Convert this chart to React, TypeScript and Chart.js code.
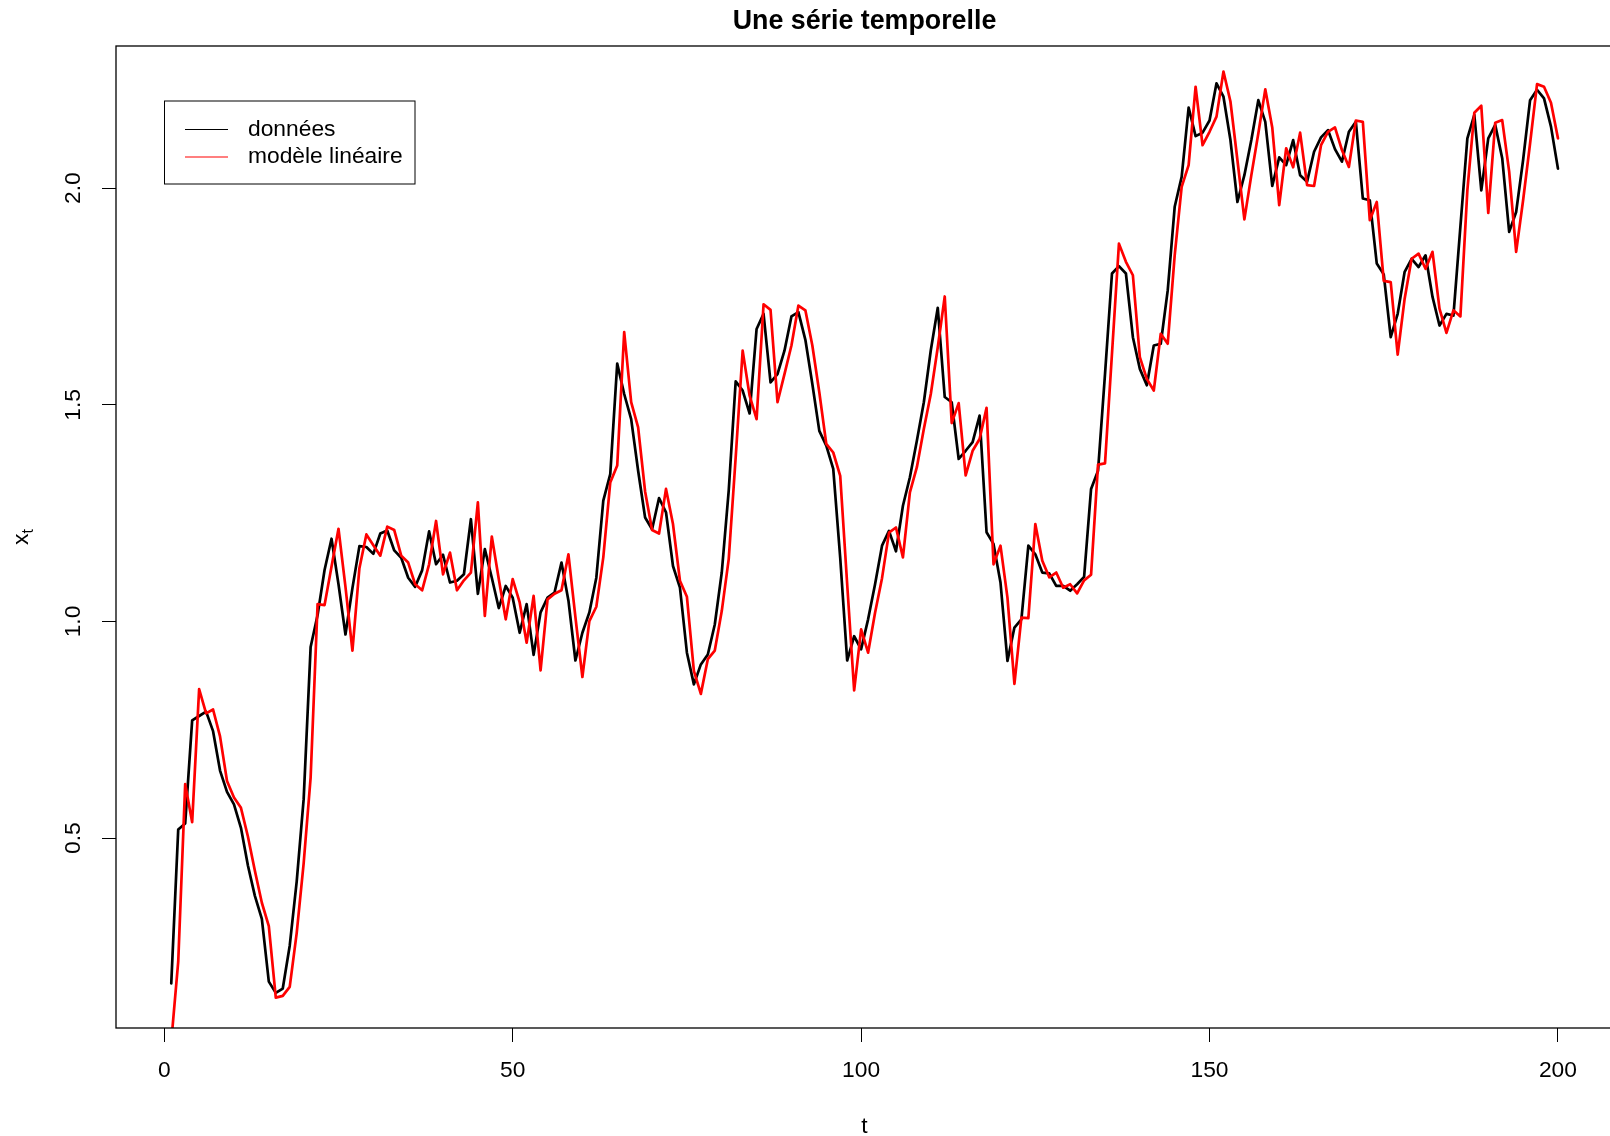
import React, { useEffect, useRef } from 'react';
import { Chart, registerables } from 'chart.js';

Chart.register(...registerables);

const chartTitle = 'Une série temporelle';
const legendLabels = ['données', 'modèle linéaire'];
const xTicks = [0, 50, 100, 150, 200];
const yTicks = [0.5, 1.0, 1.5, 2.0];
const yTickLabels = ['0.5', '1.0', '1.5', '2.0'];

// time index t = 1..200
const tValues = Array.from({ length: 200 }, (_, i) => i + 1);

// observed series x_t
const donnees = [
  0.165, 0.52, 0.534, 0.772, 0.782, 0.792, 0.747, 0.656, 0.607, 0.578,
  0.524, 0.437, 0.367, 0.314, 0.169, 0.143, 0.153, 0.252, 0.4, 0.59,
  0.941, 1.015, 1.119, 1.191, 1.086, 0.97, 1.077, 1.174, 1.172, 1.156,
  1.203, 1.21, 1.164, 1.147, 1.101, 1.08, 1.118, 1.208, 1.132, 1.154,
  1.09, 1.094, 1.109, 1.236, 1.064, 1.167, 1.101, 1.031, 1.082, 1.055,
  0.974, 1.04, 0.923, 1.021, 1.055, 1.067, 1.136, 1.048, 0.91, 0.974,
  1.021, 1.101, 1.279, 1.34, 1.595, 1.525, 1.467, 1.348, 1.24, 1.213,
  1.285, 1.252, 1.128, 1.078, 0.928, 0.855, 0.901, 0.924, 0.993, 1.113,
  1.302, 1.554, 1.533, 1.48, 1.675, 1.71, 1.552, 1.571, 1.625, 1.704,
  1.714, 1.65, 1.548, 1.44, 1.406, 1.352, 1.147, 0.91, 0.966, 0.936,
  1.005, 1.086, 1.175, 1.209, 1.162, 1.267, 1.333, 1.417, 1.506, 1.626,
  1.724, 1.518, 1.506, 1.375, 1.394, 1.414, 1.475, 1.206, 1.179, 1.09,
  0.909, 0.986, 1.005, 1.175, 1.155, 1.113, 1.111, 1.082, 1.082, 1.071,
  1.086, 1.103, 1.306, 1.348, 1.571, 1.803, 1.82, 1.803, 1.656, 1.583,
  1.545, 1.637, 1.641, 1.764, 1.957, 2.026, 2.186, 2.12, 2.128, 2.156,
  2.242, 2.211, 2.111, 1.968, 2.03, 2.111, 2.203, 2.153, 2.005, 2.071,
  2.053, 2.111, 2.03, 2.015, 2.084, 2.117, 2.134, 2.09, 2.061, 2.13,
  2.153, 1.976, 1.972, 1.826, 1.801, 1.656, 1.71, 1.807, 1.837, 1.818,
  1.845, 1.749, 1.683, 1.71, 1.706, 1.911, 2.115, 2.169, 1.995, 2.115,
  2.146, 2.069, 1.899, 1.945, 2.065, 2.203, 2.227, 2.207, 2.142, 2.045,
];

// fitted linear model
const modele = [
  0.03, 0.215, 0.625, 0.537, 0.844, 0.788, 0.797, 0.735, 0.632, 0.594,
  0.57, 0.504, 0.425, 0.351, 0.297, 0.132, 0.136, 0.157, 0.281, 0.442,
  0.64, 1.04, 1.038, 1.127, 1.214, 1.08, 0.933, 1.123, 1.201, 1.176,
  1.152, 1.219, 1.211, 1.152, 1.136, 1.086, 1.072, 1.132, 1.232, 1.109,
  1.159, 1.072, 1.095, 1.113, 1.275, 1.013, 1.196, 1.098, 1.005, 1.098,
  1.044, 0.951, 1.059, 0.887, 1.051, 1.064, 1.072, 1.155, 1.01, 0.872,
  1.001, 1.034, 1.148, 1.321, 1.36, 1.668, 1.506, 1.448, 1.3, 1.211,
  1.203, 1.306, 1.225, 1.094, 1.057, 0.886, 0.833, 0.913, 0.933, 1.024,
  1.144, 1.379, 1.625, 1.521, 1.467, 1.732, 1.719, 1.506, 1.571, 1.637,
  1.729, 1.718, 1.637, 1.529, 1.41, 1.39, 1.336, 1.086, 0.841, 0.982,
  0.928, 1.02, 1.1, 1.205, 1.217, 1.148, 1.298, 1.356, 1.444, 1.525,
  1.633, 1.75, 1.458, 1.504, 1.337, 1.394, 1.421, 1.493, 1.132, 1.175,
  1.055, 0.856, 1.009, 1.008, 1.225, 1.14, 1.102, 1.113, 1.078, 1.086,
  1.065, 1.095, 1.108, 1.362, 1.365, 1.618, 1.872, 1.83, 1.799, 1.61,
  1.56, 1.533, 1.664, 1.641, 1.845, 2.003, 2.053, 2.234, 2.099, 2.13,
  2.165, 2.269, 2.2, 2.065, 1.928, 2.03, 2.126, 2.228, 2.14, 1.961,
  2.092, 2.048, 2.128, 2.007, 2.005, 2.099, 2.13, 2.14, 2.088, 2.049,
  2.156, 2.153, 1.926, 1.968, 1.786, 1.783, 1.616, 1.745, 1.837, 1.849,
  1.814, 1.853, 1.722, 1.666, 1.718, 1.704, 1.995, 2.174, 2.19, 1.943,
  2.151, 2.157, 2.038, 1.853, 1.972, 2.103, 2.24, 2.234, 2.197, 2.115,
];

const FONT = '"Liberation Sans", Arial, Helvetica, sans-serif';
const FS = 22.8;
const FS_TITLE = 26.8;

export default function App() {
  const ref = useRef<HTMLCanvasElement>(null);

  useEffect(() => {
    document.body.style.margin = '0';
    const canvas = ref.current;
    if (!canvas) return;

    const overlay = {
      id: 'overlay',
      afterDraw(chart: any) {
        const ctx = chart.ctx;
        const ca = chart.chartArea;
        const ys = chart.scales.y;
        ctx.save();
        // plot box (right edge lies just beyond the canvas)
        ctx.strokeStyle = '#000';
        ctx.lineWidth = 1.3;
        ctx.strokeRect(ca.left, ca.top, ca.right - ca.left + 4, ca.bottom - ca.top);

        ctx.fillStyle = '#000';
        // title
        ctx.font = `bold ${FS_TITLE}px ${FONT}`;
        ctx.textAlign = 'center';
        ctx.textBaseline = 'middle';
        ctx.fillText(chartTitle, 864.5, 22);

        // x axis title
        ctx.font = `${FS}px ${FONT}`;
        ctx.fillText('t', (ca.left + 1613) / 2, 1127);

        // y tick labels (rotated)
        yTicks.forEach((v, i) => {
          const py = ys.getPixelForValue(v);
          ctx.save();
          ctx.translate(74, py);
          ctx.rotate(-Math.PI / 2);
          ctx.textAlign = 'center';
          ctx.textBaseline = 'middle';
          ctx.font = `${FS}px ${FONT}`;
          ctx.fillText(yTickLabels[i], 0, 0);
          ctx.restore();
        });

        // y axis title x_t
        ctx.save();
        ctx.translate(21, (ca.top + ca.bottom) / 2);
        ctx.rotate(-Math.PI / 2);
        ctx.textBaseline = 'alphabetic';
        ctx.textAlign = 'left';
        ctx.font = `${FS}px ${FONT}`;
        const wx = ctx.measureText('x').width;
        ctx.font = `${FS * 0.7}px ${FONT}`;
        const wt = ctx.measureText('t').width;
        const x0 = -(wx + wt) / 2;
        ctx.font = `${FS}px ${FONT}`;
        ctx.fillText('x', x0, 7);
        ctx.font = `${FS * 0.7}px ${FONT}`;
        ctx.fillText('t', x0 + wx, 12);
        ctx.restore();

        // legend
        ctx.lineWidth = 1;
        ctx.strokeStyle = '#000';
        ctx.strokeRect(164.5, 101, 250.5, 83);
        const rows = [
          { y: 129.5, color: '#000000' },
          { y: 157, color: '#ff0000' },
        ];
        rows.forEach((r, i) => {
          ctx.strokeStyle = r.color;
          ctx.lineWidth = 1.2;
          ctx.beginPath();
          ctx.moveTo(185, r.y);
          ctx.lineTo(228, r.y);
          ctx.stroke();
          ctx.fillStyle = '#000';
          ctx.font = `${FS}px ${FONT}`;
          ctx.textAlign = 'left';
          ctx.textBaseline = 'middle';
          ctx.fillText(legendLabels[i], 248, r.y);
        });
        ctx.restore();
      },
    };

    const gridOpts = {
      display: true,
      drawOnChartArea: false,
      drawTicks: true,
      tickLength: 14,
      color: '#000',
      lineWidth: 1,
    };

    const chart = new Chart(canvas, {
      type: 'line',
      data: {
        datasets: [
          {
            label: legendLabels[1],
            data: tValues.map((t, i) => ({ x: t, y: modele[i] })),
            borderColor: '#ff0000',
            borderWidth: 2.7,
            pointRadius: 0,
            tension: 0,
            clip: 0,
          },
          {
            label: legendLabels[0],
            data: tValues.map((t, i) => ({ x: t, y: donnees[i] })),
            borderColor: '#000000',
            borderWidth: 2.7,
            pointRadius: 0,
            tension: 0,
            clip: 0,
          },
        ],
      },
      options: {
        animation: false,
        responsive: false,
        devicePixelRatio: 1,
        layout: { padding: { top: 46, left: 0, right: 0, bottom: 0 } },
        elements: {
          line: { borderJoinStyle: 'round', borderCapStyle: 'round' },
          point: { radius: 0 },
        },
        plugins: {
          legend: { display: false },
          title: { display: false },
          tooltip: { enabled: false },
        },
        scales: {
          x: {
            type: 'linear',
            min: -6.93,
            max: 207.47,
            afterFit: (s: any) => {
              s.height = 108;
            },
            afterBuildTicks: (s: any) => {
              s.ticks = xTicks.map((v) => ({ value: v }));
            },
            grid: gridOpts,
            border: { display: false },
            ticks: {
              color: '#000',
              font: { family: FONT, size: FS },
              padding: 15,
              maxRotation: 0,
              minRotation: 0,
              autoSkip: false,
              callback: (v: any) => String(v),
            },
          },
          y: {
            type: 'linear',
            min: 0.062,
            max: 2.328,
            afterFit: (s: any) => {
              s.width = 116;
            },
            afterBuildTicks: (s: any) => {
              s.ticks = yTicks.map((v) => ({ value: v }));
            },
            grid: gridOpts,
            border: { display: false },
            ticks: { display: false },
          },
        },
      },
      plugins: [overlay],
    } as any);

    return () => chart.destroy();
  }, []);

  return (
    <canvas
      ref={ref}
      width={1610}
      height={1136}
      style={{ display: 'block', width: 1610, height: 1136 }}
    />
  );
}
